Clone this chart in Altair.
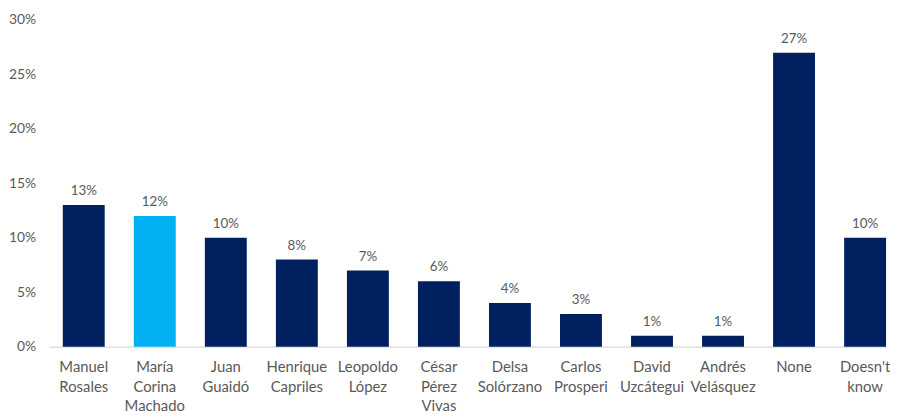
import altair as alt
import pandas as pd

names = ["Manuel|Rosales", "María|Corina|Machado", "Juan|Guaidó", "Henrique|Capriles",
         "Leopoldo|López", "César|Pérez|Vivas", "Delsa|Solórzano", "Carlos|Prosperi",
         "David|Uzcátegui", "Andrés|Velásquez", "None", "Doesn't|know"]
values = [0.13, 0.12, 0.10, 0.08, 0.07, 0.06, 0.04, 0.03, 0.01, 0.01, 0.27, 0.10]
highlight = [False, True, False, False, False, False, False, False, False, False, False, False]

df = pd.DataFrame({"name": names, "value": values, "hl": highlight})

FONT = "Lato"
x = alt.X("name:N", sort=names, title=None,
          scale=alt.Scale(paddingInner=0.41, paddingOuter=0.1, align=1.0, round=False),
          axis=alt.Axis(labelAngle=0, labelExpr="split(datum.value, '|')",
                        labelLineHeight=20, labelFontSize=15, labelColor="#595959",
                        labelFont=FONT, labelPadding=13, ticks=False,
                        domainColor="#d9d9d9", domainWidth=1.5, labelBaseline="top"))
y = alt.Y("value:Q", title=None,
          scale=alt.Scale(domain=[0, 0.30]),
          axis=alt.Axis(values=[0, 0.05, 0.10, 0.15, 0.20, 0.25, 0.30], format=".0%",
                        grid=False, domain=False, ticks=False, labelFontSize=14,
                        labelColor="#595959", labelFont=FONT, labelPadding=13))

bars = alt.Chart(df).mark_bar().encode(
    x=x, y=y,
    color=alt.Color("hl:N", scale=alt.Scale(domain=[False, True], range=["#002060", "#00B0F0"]), legend=None),
)
text = alt.Chart(df).mark_text(dy=-14, fontSize=13.5, color="#595959", font=FONT).encode(
    x=alt.X("name:N", sort=names), y="value:Q", text=alt.Text("value:Q", format=".0%"))

chart = (bars + text).properties(
    width=846, height=330,
    padding={"left": 0, "top": 3, "right": 0, "bottom": 0},
).configure_view(stroke=None)

chart.save("out.html", embed_options={"renderer": "svg", "actions": False})
